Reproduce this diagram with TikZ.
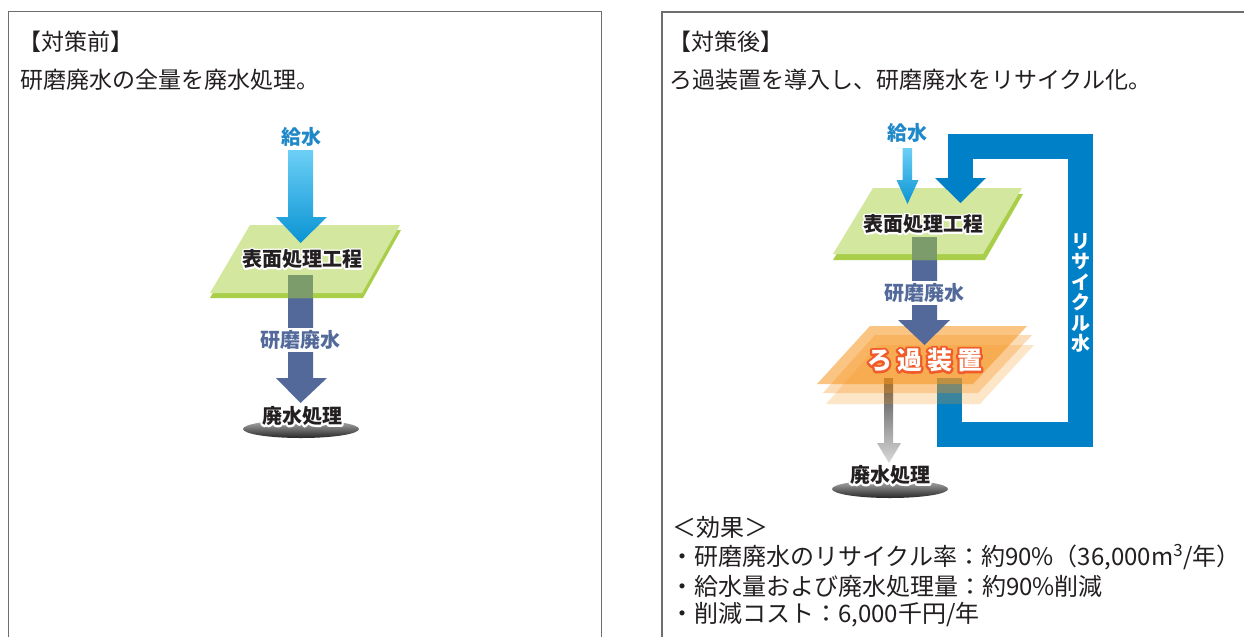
\documentclass[tikz,border=0pt]{standalone}
\usepackage{fontspec}
\setmainfont{Noto Sans CJK JP}
\usetikzlibrary{calc}
\definecolor{txt}{HTML}{231F20}
\definecolor{panelc}{HTML}{6E6E6E}
\definecolor{feedlight}{HTML}{6CCFF6}
\definecolor{feeddark}{HTML}{0A94D3}
\definecolor{feedtxt}{HTML}{1E88C8}
\definecolor{waste}{HTML}{52699A}
\definecolor{greenlight}{HTML}{D4E79E}
\definecolor{greenedge}{HTML}{A9CF4A}
\definecolor{overlap}{HTML}{7C9C6C}
\definecolor{loopblue}{HTML}{0080C6}
\definecolor{orangeplane}{HTML}{F7941D}
\definecolor{filtred}{HTML}{EF5B2A}
\tikzset{
  panel/.style={draw=panelc, line width=1.8pt},
  body/.style={font=\fontsize{23}{23}\selectfont, text=txt, inner sep=0pt, anchor=west},
  bullet/.style={font=\fontsize{24}{24}\selectfont, text=txt, inner sep=0pt, anchor=west},
  lbl/.style={font=\bfseries\fontsize{20}{20}\selectfont, inner sep=0pt},
  bigl/.style={font=\bfseries\fontsize{25}{25}\selectfont, inner sep=0pt},
  wastearrow/.style={fill=waste},
  greentop/.style={fill=greenlight},
  greenbot/.style={fill=greenedge},
  oplane/.style={fill=orangeplane},
}
% outlined text: stroked copy (behind) via text render mode 1
\newcommand\strokeon[2]{\special{pdf:literal direct 1 Tr #2 w 1 j #1 RG}}
\newcommand\strokeoff{\special{pdf:literal direct 0 Tr 0.4 w}}
\begin{document}
\begin{tikzpicture}[x=1pt,y=-1pt]
\useasboundingbox (0,0) rectangle (1244,637);
\fill[white] (0,0) rectangle (1244,637);

% ---------- panels ----------
\draw[panel] (8.5,637) -- (8.5,11.5) -- (601.5,11.5) -- (601.5,637);
\draw[panel] (662,637) -- (662,12) -- (1244,12);

\node[body] (tA) at (18,42) {【対策前】};
\node[body] (tB) at (20,80) {研磨廃水の全量を廃水処理。};
\node[body] (tC) at (668,42) {【対策後】};
\node[body] (tD) at (669,80) {ろ過装置を導入し、研磨廃水をリサイクル化。};

% ---------- left diagram ----------
\fill[wastearrow] (288,275) -- (313,275) -- (313,378) -- (327,378) -- (300.5,403) -- (276,378) -- (288,378) -- cycle;
\fill[greenbot] (250,230) -- (401,230) -- (363,298) -- (210,298) -- cycle;
\fill[greentop] (250,225) -- (400,225) -- (362,293) -- (210,293) -- cycle;
\begin{scope}
  \clip (250,225) -- (400,225) -- (401,230) -- (363,298) -- (210,298) -- cycle;
  \fill[overlap] (288,275) rectangle (313,300);
\end{scope}
\shade[top color=feedlight, bottom color=feeddark] (288,150) -- (313,150) -- (313,217) -- (327,217) -- (300.5,243) -- (276,217) -- (288,217) -- cycle;
\node[lbl, text=feedtxt] (Lfeed) at (301,137) {給水};
\node[lbl, text=waste, fill=white, inner sep=2pt] (Lwaste) at (300.5,340) {研磨廃水};
\shade[top color=black!30, bottom color=black!85] (301,429) ellipse [x radius=58, y radius=9];

% ---------- right diagram ----------
% recycle loop (under the filter planes)
\draw[loopblue, line width=25pt, line join=miter] (949.5,378) -- (949.5,434.5) -- (1080.5,434.5) -- (1080.5,146.5) -- (960.5,146.5) -- (960.5,179);
% gray waste arrow
\shade[top color=black!70, bottom color=black!15] (884,378) -- (893,378) -- (893,443) -- (901,443) -- (889,463) -- (877,443) -- (884,443) -- cycle;
% filter planes
\fill[oplane, opacity=0.24] (878,345) -- (1034,345) -- (980,404) -- (826,404) -- cycle;
\fill[oplane, opacity=0.32] (875,335) -- (1032,335) -- (978,393) -- (823,393) -- cycle;
\fill[oplane, opacity=0.55] (870,326) -- (1027,326) -- (973,384) -- (817,384) -- cycle;
% waste arrow
\fill[wastearrow] (912,237) -- (937,237) -- (937,320) -- (950,320) -- (924.5,345) -- (898,320) -- (912,320) -- cycle;
% process plane
\fill[greenbot] (873,194) -- (1023,194) -- (985,260) -- (833,260) -- cycle;
\fill[greentop] (873,188) -- (1022,188) -- (983,254) -- (833,254) -- cycle;
\begin{scope}
  \clip (873,188) -- (1022,188) -- (1023,194) -- (985,260) -- (833,260) -- cycle;
  \fill[overlap] (912,237) rectangle (937,262);
\end{scope}
% loop arrow head on top of plane
\fill[loopblue] (948,150) rectangle (973,178.5);
\fill[loopblue] (935,178) -- (986,178) -- (960.5,203) -- cycle;
% feed arrow
\shade[top color=feedlight, bottom color=feeddark] (902.5,148) -- (912,148) -- (912,180) -- (918.5,180) -- (907.5,204) -- (896.5,180) -- (902.5,180) -- cycle;
\node[lbl, text=feedtxt] (Rfeed) at (907.5,133) {給水};
\node[lbl, text=waste, fill=white, inner sep=2pt] (Rwaste) at (924.5,293) {研磨廃水};
\node[lbl, text=white, align=center, font=\bfseries\fontsize{19}{20.5}\selectfont] (Rrec) at (1080.5,293) {リ\\サ\\イ\\ク\\ル\\水};
\shade[top color=black!30, bottom color=black!85] (890,489) ellipse [x radius=58, y radius=9];

% ---------- effects ----------
\node[bullet] (e0) at (672,527) {＜効果＞};
\node[bullet] (e1) at (670,557) {・研磨廃水のリサイクル率：約90\%（36,000m\textsuperscript{3}/年）};
\node[bullet] (e2) at (670,586) {・給水量および廃水処理量：約90\%削減};
\node[bullet] (e3) at (670,615) {・削減コスト：6,000千円/年};

% ---------- outlined labels ----------
\node[lbl, text=white] (LprocH) at (302,259) {\strokeon{1 1 1}{3.5}表面処理工程\strokeoff};
\node[lbl, text=txt] (Lproc) at (302,259) {表面処理工程};
\node[lbl, text=white] (LdispH) at (302,416) {\strokeon{1 1 1}{4}廃水処理\strokeoff};
\node[lbl, text=txt] (Ldisp) at (302,416) {廃水処理};
\node[lbl, text=white] (RprocH) at (923,224) {\strokeon{1 1 1}{3.5}表面処理工程\strokeoff};
\node[lbl, text=txt] (Rproc) at (923,224) {表面処理工程};
\node[lbl, text=white] (RdispH) at (890,475) {\strokeon{1 1 1}{4}廃水処理\strokeoff};
\node[lbl, text=txt] (Rdisp) at (890,475) {廃水処理};
\node[bigl, text=filtred] (RfiltH) at (924.5,360) {\strokeon{0.937 0.357 0.165}{4.5}ろ\hspace{5pt}過\hspace{5pt}装\hspace{5pt}置\strokeoff};
\node[bigl, text=white] (Rfilt) at (924.5,360) {ろ\hspace{5pt}過\hspace{5pt}装\hspace{5pt}置};
\end{tikzpicture}
\end{document}
